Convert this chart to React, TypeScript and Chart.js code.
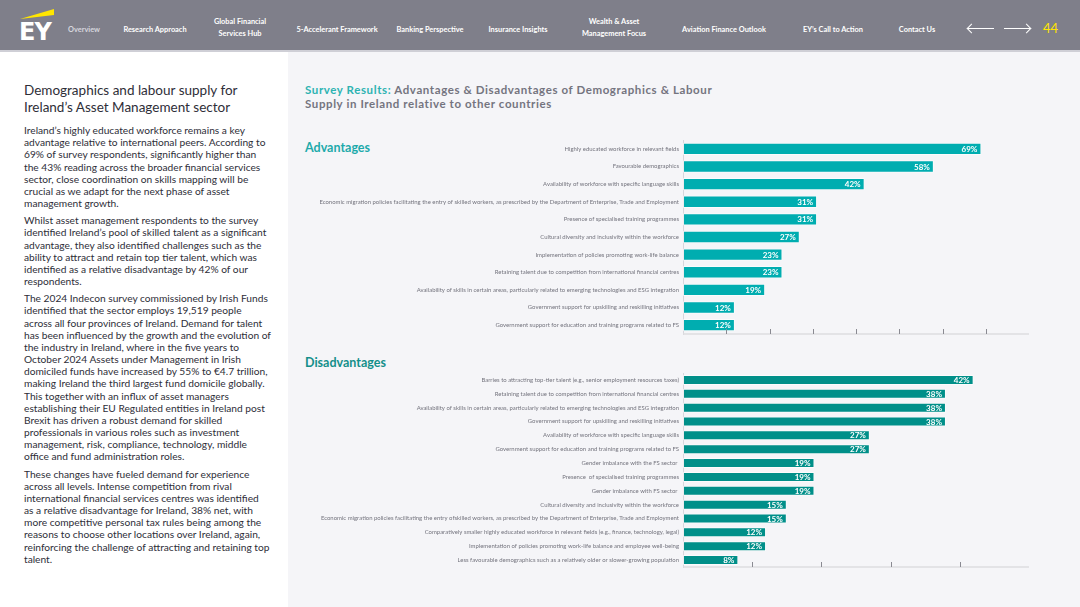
import React, { useEffect, useRef } from "react";
import { Chart, registerables } from "chart.js";

Chart.register(...registerables);

// ---------- DATA ----------
const advCategories = [
  "Highly educated workforce in relevant fields",
  "Favourable demographics",
  "Availability of workforce with specific language skills",
  "Economic migration policies facilitating the entry of skilled workers, as prescribed by the Department of Enterprise, Trade and Employment",
  "Presence of specialised training programmes",
  "Cultural diversity and inclusivity within the workforce",
  "Implementation of policies promoting work-life balance",
  "Retaining talent due to competition from international financial centres",
  "Availability of skills in certain areas, particularly related to emerging technologies and ESG integration",
  "Government support for upskilling and reskilling initiatives",
  "Government support for education and training programs related to FS",
];
const advValues = [69, 58, 42, 31, 31, 27, 23, 23, 19, 12, 12];
const advTicks = [10, 20, 30, 40, 50, 60, 70];
const advMax = 80;

const disCategories = [
  "Barries to attracting top-tier talent (e.g., senior employment resources taxes)",
  "Retaining talent due to competition from international financial centres",
  "Availability of skills in certain areas, particularly related to emerging technologies and ESG integration",
  "Government support for upskilling and reskilling initiatives",
  "Availability of workforce with specific language skills",
  "Government support for education and training programs related to FS",
  "Gender imbalance with the FS sector ",
  "Presence  of specialised training programmes",
  "Gender imbalance with FS sector ",
  "Cultural diversity and inclusivity within the workforce",
  "Economic migration policies facilitating the entry ofskilled workers, as prescribed by the Department of Enterprise, Trade and Employment",
  "Comparatively smaller highly educated workforce in relevant fields (e.g., finance, technology, legal)",
  "Implementation of policies promoting work-life balance and employee well-being",
  "Less favourable demographics such as a relatively older or slower-growing population",
];
const disValues = [42, 38, 38, 38, 27, 27, 19, 19, 19, 15, 15, 12, 12, 8];
const disTicks = [10, 20, 30, 40];
const disMax = 50;

const navItems = [
  { label: ["Overview"], x: 84, dim: true },
  { label: ["Research Approach"], x: 155 },
  { label: ["Global Financial", "Services Hub"], x: 240 },
  { label: ["5-Accelerant Framework"], x: 337 },
  { label: ["Banking Perspective"], x: 430 },
  { label: ["Insurance Insights"], x: 518 },
  { label: ["Wealth & Asset", "Management Focus"], x: 614 },
  { label: ["Aviation Finance Outlook"], x: 724 },
  { label: ["EY’s Call to Action"], x: 833 },
  { label: ["Contact Us"], x: 917 },
];

const headingLines = ["Demographics and labour supply for", "Ireland’s Asset Management sector"];
const paragraphs = [
  [
    "Ireland’s highly educated workforce remains a key",
    "advantage relative to international peers. According to",
    "69% of survey respondents, significantly higher than",
    "the 43% reading across the broader financial services",
    "sector, close coordination on skills mapping will be",
    "crucial as we adapt for the next phase of asset",
    "management growth.",
  ],
  [
    "Whilst asset management respondents to the survey",
    "identified Ireland’s pool of skilled talent as a significant",
    "advantage, they also identified challenges such as the",
    "ability to attract and retain top tier talent, which was",
    "identified as a relative disadvantage by 42% of our",
    "respondents.",
  ],
  [
    "The 2024 Indecon survey commissioned by Irish Funds",
    "identified that the sector employs 19,519 people",
    "across all four provinces of Ireland. Demand for talent",
    "has been influenced by the growth and the evolution of",
    "the industry in Ireland, where in the five years to",
    "October 2024 Assets under Management in Irish",
    "domiciled funds have increased by 55% to €4.7 trillion,",
    "making Ireland the third largest fund domicile globally.",
    "This together with an influx of asset managers",
    "establishing their EU Regulated entities in Ireland post",
    "Brexit has driven a robust demand for skilled",
    "professionals in various roles such as investment",
    "management, risk, compliance, technology, middle",
    "office and fund administration roles.",
  ],
  [
    "These changes have fueled demand for experience",
    "across all levels. Intense competition from rival",
    "international financial services centres was identified",
    "as a relative disadvantage for Ireland, 38% net, with",
    "more competitive personal tax rules being among the",
    "reasons to choose other locations over Ireland, again,",
    "reinforcing the challenge of attracting and retaining top",
    "talent.",
  ],
];

const FONT = "Lato, 'Noto Sans', sans-serif";

type BarChartProps = {
  categories: string[];
  values: number[];
  ticks: number[];
  max: number;
  color: string;
  barPct: number;
  left: number;
  top: number;
  width: number;
  height: number;
};

function BarChart(p: BarChartProps) {
  const ref = useRef<HTMLCanvasElement | null>(null);
  useEffect(() => {
    if (!ref.current) return;
    const tickList = p.ticks;
    const axisPlugin = {
      id: "axisMarks",
      afterDatasetsDraw(chart: any) {
        const { ctx, chartArea, scales } = chart;
        const xs = scales.x;
        ctx.save();
        ctx.strokeStyle = "#dcdce0";
        ctx.lineWidth = 1.5;
        ctx.beginPath();
        ctx.moveTo(chartArea.left, chartArea.bottom);
        ctx.lineTo(chartArea.right, chartArea.bottom);
        ctx.stroke();
        ctx.strokeStyle = "#8a8a92";
        ctx.lineWidth = 1;
        tickList.forEach((t) => {
          const x = Math.round(xs.getPixelForValue(t)) + 0.5;
          ctx.beginPath();
          ctx.moveTo(x, chartArea.bottom);
          ctx.lineTo(x, chartArea.bottom - 5);
          ctx.stroke();
        });
        // value labels
        const meta = chart.getDatasetMeta(0);
        ctx.fillStyle = "#ffffff";
        ctx.font = `bold 8px ${FONT}`;
        ctx.textAlign = "right";
        ctx.textBaseline = "middle";
        meta.data.forEach((bar: any, i: number) => {
          const v = chart.data.datasets[0].data[i];
          ctx.fillText(`${v}%`, bar.x - 4, bar.y + 0.5);
        });
        ctx.restore();
      },
    };
    const chart = new Chart(ref.current, {
      type: "bar",
      data: {
        labels: p.categories,
        datasets: [
          {
            data: p.values,
            backgroundColor: p.color,
            borderColor: "rgba(255,255,255,0.55)",
            borderWidth: 1,
            borderSkipped: false,
            categoryPercentage: 1,
            barPercentage: p.barPct,
          },
        ],
      },
      options: {
        indexAxis: "y",
        animation: false,
        responsive: false,
        maintainAspectRatio: false,
        layout: { padding: { top: 10, bottom: 11, left: 0, right: 21 } },
        plugins: { legend: { display: false }, tooltip: { enabled: false } },
        scales: {
          x: { display: false, min: 0, max: p.max },
          y: {
            afterFit: (scale: any) => {
              scale.width = 383;
            },
            grid: { display: true, drawOnChartArea: false, drawTicks: false },
            border: { display: true, color: "#d6d6dc", width: 1 },
            ticks: {
              color: "#74747e",
              font: { family: FONT, size: 5.95 },
              padding: 4,
              autoSkip: false,
            },
          },
        },
      },
      plugins: [axisPlugin],
    });
    return () => chart.destroy();
  }, []);
  return (
    <canvas
      ref={ref}
      width={p.width}
      height={p.height}
      style={{ position: "absolute", left: p.left, top: p.top, width: p.width, height: p.height }}
    />
  );
}

export default function App() {
  const bodyLineH = 12.17;
  const paraGap = 5;
  let y = 124;
  const bodyEls: React.ReactNode[] = [];
  paragraphs.forEach((para, pi) => {
    para.forEach((line, li) => {
      bodyEls.push(
        <div
          key={`${pi}-${li}`}
          style={{
            position: "absolute",
            left: 24,
            top: y,
            height: bodyLineH,
            lineHeight: `${bodyLineH}px`,
            whiteSpace: "nowrap",
            fontSize: 10.2,
          }}
        >
          {line}
        </div>
      );
      y += bodyLineH;
    });
    y += paraGap;
  });

  return (
    <div
      style={{
        position: "absolute",
        left: 0,
        top: 0,
        width: 1080,
        height: 607,
        overflow: "hidden",
        background: "#ffffff",
        fontFamily: FONT,
        color: "#2e2e38",
      }}
    >
      {/* header */}
      <div style={{ position: "absolute", left: 0, top: 0, width: 1080, height: 50, background: "#7f7f8a" }} />
      <div style={{ position: "absolute", left: 0, top: 50, width: 1080, height: 2, background: "#cfcfd6" }} />
      <svg style={{ position: "absolute", left: 18, top: 6 }} width={40} height={14}>
        <polygon points="2,13 36,3 36,9" fill="#ffe600" />
      </svg>
      <div
        style={{
          position: "absolute",
          left: 19,
          top: 18,
          color: "#ffffff",
          fontFamily: "'DejaVu Sans', sans-serif",
          fontWeight: 700,
          fontSize: 24,
          letterSpacing: -1,
          lineHeight: "28px",
        }}
      >
        EY
      </div>
      {navItems.map((n, i) => (
        <div
          key={i}
          style={{
            position: "absolute",
            left: n.x,
            top: n.label.length > 1 ? 16 : 24,
            transform: "translateX(-50%)",
            color: n.dim ? "#d6d6de" : "#ffffff",
            fontSize: 7.4,
            fontWeight: 700,
            lineHeight: "12px",
            textAlign: "center",
            whiteSpace: "nowrap",
          }}
        >
          {n.label.map((l, j) => (
            <div key={j}>{l}</div>
          ))}
        </div>
      ))}
      <div style={{ position: "absolute", left: 968, top: 28, width: 26, height: 1, background: "#ffffff" }} />
      <div
        style={{
          position: "absolute",
          left: 968,
          top: 25,
          width: 6,
          height: 6,
          borderLeft: "1px solid #fff",
          borderBottom: "1px solid #fff",
          transform: "rotate(45deg)",
          transformOrigin: "center",
        }}
      />
      <div style={{ position: "absolute", left: 1004, top: 28, width: 26, height: 1, background: "#ffffff" }} />
      <div
        style={{
          position: "absolute",
          left: 1023,
          top: 25,
          width: 6,
          height: 6,
          borderRight: "1px solid #fff",
          borderTop: "1px solid #fff",
          transform: "rotate(45deg)",
          transformOrigin: "center",
        }}
      />
      <div style={{ position: "absolute", left: 1043, top: 20, color: "#ffe600", fontSize: 13, lineHeight: "16px" }}>44</div>

      {/* right panel */}
      <div style={{ position: "absolute", left: 288, top: 52, width: 792, height: 555, background: "#f5f5f8" }} />

      {/* left text */}
      {headingLines.map((l, i) => (
        <div
          key={i}
          style={{
            position: "absolute",
            left: 24,
            top: 82 + i * 17,
            fontSize: 13.5,
            lineHeight: "17px",
            whiteSpace: "nowrap",
          }}
        >
          {l}
        </div>
      ))}
      {bodyEls}

      {/* chart titles */}
      <div
        style={{
          position: "absolute",
          left: 305,
          top: 83,
          fontSize: 11.5,
          letterSpacing: 0.6,
          fontWeight: 700,
          lineHeight: "14px",
          color: "#74747f",
          whiteSpace: "nowrap",
        }}
      >
        <div>
          <span style={{ color: "#2db3b2" }}>Survey Results: </span>Advantages &amp; Disadvantages of Demographics &amp; Labour
        </div>
        <div>Supply in Ireland relative to other countries</div>
      </div>
      <div
        style={{
          position: "absolute",
          left: 305,
          top: 140,
          fontSize: 12.5,
          fontWeight: 700,
          lineHeight: "16px",
          color: "#1daaab",
        }}
      >
        Advantages
      </div>
      <div
        style={{
          position: "absolute",
          left: 305,
          top: 355,
          fontSize: 12.5,
          fontWeight: 700,
          lineHeight: "16px",
          color: "#138f8a",
        }}
      >
        Disadvantages
      </div>

      <BarChart
        categories={advCategories}
        values={advValues}
        ticks={advTicks}
        max={advMax}
        color="#00adb0"
        barPct={0.7}
        left={300}
        top={130}
        width={750}
        height={215}
      />
      <BarChart
        categories={disCategories}
        values={disValues}
        ticks={disTicks}
        max={disMax}
        color="#008f89"
        barPct={0.72}
        left={300}
        top={363}
        width={750}
        height={215}
      />
    </div>
  );
}
